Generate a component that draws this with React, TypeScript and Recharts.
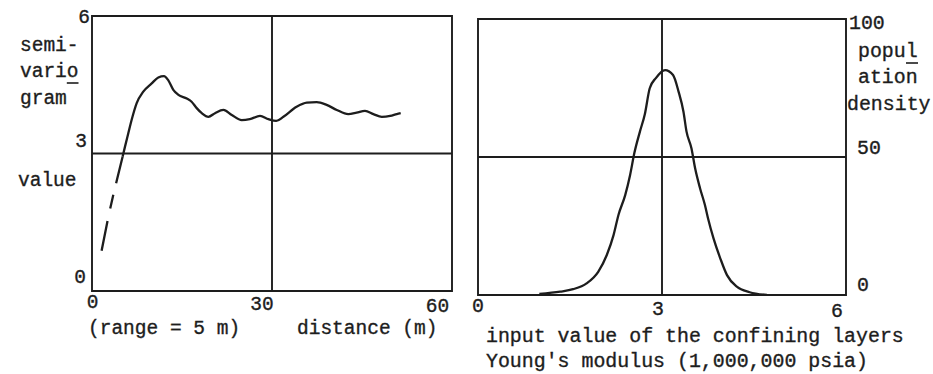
import React from 'react';
import { LineChart, Line, XAxis, YAxis, ReferenceLine, ReferenceArea } from 'recharts';

// ---- Left panel: semivariogram ----
const semiDashDistance = [1.6, 3.0, 4.2, 5.1];
const semiDashValue = [0.88, 1.78, 2.45, 2.93];
const semiDistance = [5.1, 5.5, 6.05, 6.6, 7.45, 8.55, 9.95, 11.05, 12.0, 12.7, 13.55, 14.4, 15.8, 16.6, 17.45, 18.3, 19.4, 20.5, 21.9, 23.3, 24.95, 26.3, 28.0, 29.4, 30.7, 31.9, 34.1, 35.8, 37.45, 39.1, 40.8, 42.7, 44.1, 45.5, 46.9, 48.3, 49.7, 50.8, 51.45];
const semiValue = [2.93, 3.15, 3.44, 3.73, 4.1, 4.35, 4.53, 4.66, 4.69, 4.6, 4.39, 4.28, 4.2, 4.13, 3.99, 3.88, 3.8, 3.88, 3.95, 3.84, 3.73, 3.75, 3.82, 3.75, 3.71, 3.8, 4.02, 4.11, 4.12, 4.06, 3.95, 3.86, 3.89, 3.93, 3.86, 3.8, 3.82, 3.86, 3.88];
const leftXTicks = [0, 30, 60];
const leftYTicks = [0, 3, 6];

// ---- Right panel: population density of Young's modulus ----
const youngModulus = [1.0, 1.34, 1.55, 1.77, 1.96, 2.1, 2.21, 2.29, 2.4, 2.48, 2.55, 2.64, 2.72, 2.8, 2.9, 3.05, 3.18, 3.27, 3.35, 3.4, 3.48, 3.54, 3.62, 3.7, 3.75, 3.84, 3.95, 4.06, 4.22, 4.43, 4.71];
const populationDensity = [0.4, 1.2, 2.1, 4.2, 8.4, 14.5, 21.7, 29.0, 36.2, 43.5, 51.5, 59.2, 65.5, 74.9, 78.6, 81.5, 79.7, 73.7, 66.4, 59.2, 53.2, 45.9, 38.7, 32.6, 27.8, 20.5, 13.3, 7.2, 3.0, 1.0, 0];
const rightXTicks = [0, 3, 6];
const rightYTicks = [0, 50, 100];

const semiDashData = semiDashDistance.map((x, i) => ({ x, y: semiDashValue[i] }));
const semiData = semiDistance.map((x, i) => ({ x, y: semiValue[i] }));
const densityData = youngModulus.map((x, i) => ({ x, y: populationDensity[i] }));

const INK = '#1d1d1d';
const FONT = '"Liberation Mono", "DejaVu Sans Mono", monospace';
const FS = 19.5;
const FS_R = 19.9;

const makeTick = (offsets: Record<number, [number, number]>, anchor: 'start' | 'middle' | 'end', size: number) =>
  (props: any) => {
    const { x, y, payload } = props;
    const off = offsets[payload.value] || [0, 0];
    return (
      <text x={x + off[0]} y={y + off[1]} textAnchor={anchor} fontFamily={FONT} fontSize={size} fill={INK} stroke={INK} strokeWidth={0.35}>
        {payload.value}
      </text>
    );
  };

const leftYTick = makeTick({ 6: [-2, 7], 3: [-5, -6.5], 0: [-6, -8] }, 'end', FS);
const leftXTick = makeTick({ 0: [0.5, 17], 30: [-10, 19], 60: [-14.5, 21] }, 'middle', FS);
const rightYTick = makeTick({ 100: [3, 10], 50: [11, -3], 0: [11, -4] }, 'start', FS_R);
const rightXTick = makeTick({ 0: [0, 17], 3: [-4, 20], 6: [-9, 22] }, 'middle', FS_R);

export default function App() {
  return (
    <div style={{ position: 'absolute', left: 0, top: 0, width: 933, height: 374, background: '#fff', overflow: 'hidden' }}>
      <div style={{ position: 'absolute', left: 0, top: 0 }}>
        <LineChart width={470} height={374} margin={{ top: 16, right: 18, bottom: 53, left: 32 }}>
          <XAxis type="number" dataKey="x" domain={[0, 60]} ticks={leftXTicks} axisLine={false} tickLine={false} tickSize={0} tickMargin={0} height={30} tick={leftXTick} allowDataOverflow />
          <YAxis type="number" dataKey="y" domain={[0, 6]} ticks={leftYTicks} axisLine={false} tickLine={false} tickSize={0} tickMargin={0} width={60} tick={leftYTick} allowDataOverflow />
          <ReferenceArea x1={0} x2={60} y1={0} y2={6} fill="none" fillOpacity={0} stroke={INK} strokeWidth={1.9} />
          <ReferenceLine x={30} stroke={INK} strokeWidth={1.9} />
          <ReferenceLine y={3} stroke={INK} strokeWidth={1.9} />
          <Line data={semiDashData} dataKey="y" type="monotone" stroke={INK} strokeWidth={2.3} strokeDasharray="30 13 14 12" dot={false} activeDot={false} isAnimationActive={false} />
          <Line data={semiData} dataKey="y" type="monotone" stroke={INK} strokeWidth={2.3} dot={false} activeDot={false} isAnimationActive={false} />
        </LineChart>
      </div>
      <div style={{ position: 'absolute', left: 470, top: 0 }}>
        <LineChart width={463} height={374} margin={{ top: 19, right: 27, bottom: 49, left: 8 }}>
          <XAxis type="number" dataKey="x" domain={[0, 6]} ticks={rightXTicks} axisLine={false} tickLine={false} tickSize={0} tickMargin={0} height={30} tick={rightXTick} allowDataOverflow />
          <YAxis type="number" dataKey="y" orientation="right" domain={[0, 100]} ticks={rightYTicks} axisLine={false} tickLine={false} tickSize={0} tickMargin={0} width={60} tick={rightYTick} allowDataOverflow />
          <ReferenceArea x1={0} x2={6} y1={0} y2={100} fill="none" fillOpacity={0} stroke={INK} strokeWidth={1.9} />
          <ReferenceLine x={3} stroke={INK} strokeWidth={1.9} />
          <ReferenceLine y={50} stroke={INK} strokeWidth={1.9} />
          <Line data={densityData} dataKey="y" type="monotone" stroke={INK} strokeWidth={2.3} dot={false} activeDot={false} isAnimationActive={false} />
        </LineChart>
      </div>
      <svg width={933} height={374} style={{ position: 'absolute', left: 0, top: 0, pointerEvents: 'none' }}>
        <g fontFamily={FONT} fontSize={FS} fill={INK} stroke={INK} strokeWidth={0.35}>
          <text x={20} y={51}>semi-</text>
          <text x={20} y={77}>vario</text>
          <text x={20} y={104}>gram</text>
          <text x={18} y={186}>value</text>
          <text x={88} y={334}>(range = 5 m)</text>
          <text x={297} y={334}>distance (m)</text>
        </g>
        <g fontFamily={FONT} fontSize={FS_R} fill={INK} stroke={INK} strokeWidth={0.35}>
          <text x={858} y={57}>popul</text>
          <text x={858} y={83}>ation</text>
          <text x={847} y={110}>density</text>
          <text x={486} y={342}>input value of the confining layers</text>
          <text x={486} y={367}>Young's modulus (1,000,000 psia)</text>
        </g>
        <line x1={66.8} y1={83} x2={78.5} y2={83} stroke={INK} strokeWidth={1.6} />
        <line x1={906} y1={63} x2={918} y2={63} stroke={INK} strokeWidth={1.6} />
      </svg>
    </div>
  );
}
